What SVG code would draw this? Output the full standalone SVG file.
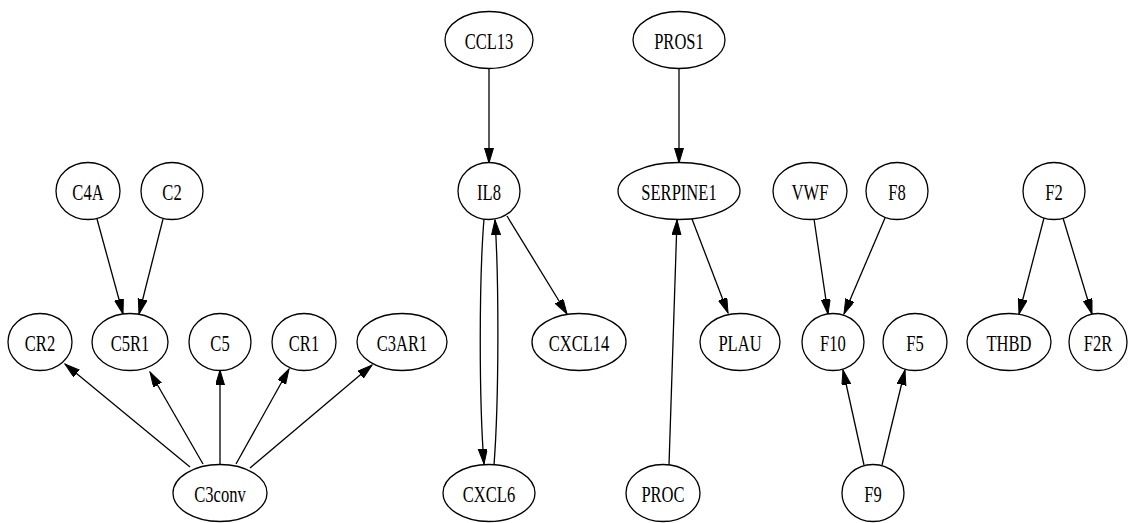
<svg xmlns="http://www.w3.org/2000/svg" width="1128" height="523" viewBox="0 0 1128 523">
<style>
.n ellipse{fill:#fff;stroke:#000;stroke-width:1.3}
.e path{fill:none;stroke:#000;stroke-width:1.3;marker-end:url(#ah)}
</style>
<defs>
<marker id="ah" markerUnits="userSpaceOnUse" markerWidth="16" markerHeight="10" refX="15" refY="4.5" orient="auto">
<path d="M0,0 L15,4.5 L0,9 z" fill="#000" stroke="#000" stroke-width="1"/>
</marker>
</defs>
<rect width="1128" height="523" fill="#fff"/>
<g id="edges" class="e">
<path d="M97,219 L123,314"/>
<path d="M163,219 L139,314"/>
<path d="M190,467 L65,364"/>
<path d="M203,464 L150,372"/>
<path d="M220,465 L220,370"/>
<path d="M236,464 L289,369"/>
<path d="M250,468 L372,365"/>
<path d="M489,68 L489,163"/>
<path d="M484,219 C479,280 479,400 484,464"/>
<path d="M494,465 C499,400 499,280 495,220"/>
<path d="M507,216 L567,314"/>
<path d="M679,68 L679,163"/>
<path d="M692,219 L728,313"/>
<path d="M669,465 L677,220"/>
<path d="M814,219 L828,314"/>
<path d="M885,218 L844,314"/>
<path d="M1044,218 L1019,314"/>
<path d="M1063,218 L1092,314"/>
<path d="M864,465 L843,370"/>
<path d="M882,465 L905,370"/>
</g>
<g font-family="Liberation Serif, Times New Roman, serif" font-size="24" text-anchor="middle" fill="#000">
<g id="CCL13" class="n"><ellipse cx="489" cy="40" rx="44" ry="28.5"/><text transform="translate(489,48.5) scale(0.69,1)">CCL13</text></g>
<g id="PROS1" class="n"><ellipse cx="679" cy="40" rx="46" ry="28.5"/><text transform="translate(679,48.5) scale(0.69,1)">PROS1</text></g>
<g id="C4A" class="n"><ellipse cx="88" cy="191" rx="32" ry="28.5"/><text transform="translate(88,199.5) scale(0.69,1)">C4A</text></g>
<g id="C2" class="n"><ellipse cx="172" cy="191" rx="31" ry="28.5"/><text transform="translate(172,199.5) scale(0.69,1)">C2</text></g>
<g id="IL8" class="n"><ellipse cx="489" cy="191" rx="31" ry="28.5"/><text transform="translate(489,199.5) scale(0.69,1)">IL8</text></g>
<g id="SERPINE1" class="n"><ellipse cx="679" cy="191" rx="61" ry="28.5"/><text transform="translate(679,199.5) scale(0.69,1)">SERPINE1</text></g>
<g id="VWF" class="n"><ellipse cx="810" cy="191" rx="37" ry="28.5"/><text transform="translate(810,199.5) scale(0.69,1)">VWF</text></g>
<g id="F8" class="n"><ellipse cx="897" cy="191" rx="31" ry="28.5"/><text transform="translate(897,199.5) scale(0.69,1)">F8</text></g>
<g id="F2" class="n"><ellipse cx="1054" cy="191" rx="31" ry="28.5"/><text transform="translate(1054,199.5) scale(0.69,1)">F2</text></g>
<g id="CR2" class="n"><ellipse cx="40" cy="342" rx="32" ry="28.5"/><text transform="translate(40,350.5) scale(0.69,1)">CR2</text></g>
<g id="C5R1" class="n"><ellipse cx="130" cy="342" rx="38" ry="28.5"/><text transform="translate(130,350.5) scale(0.69,1)">C5R1</text></g>
<g id="C5" class="n"><ellipse cx="220" cy="342" rx="31" ry="28.5"/><text transform="translate(220,350.5) scale(0.69,1)">C5</text></g>
<g id="CR1" class="n"><ellipse cx="304" cy="342" rx="32" ry="28.5"/><text transform="translate(304,350.5) scale(0.69,1)">CR1</text></g>
<g id="C3AR1" class="n"><ellipse cx="402" cy="342" rx="45" ry="28.5"/><text transform="translate(402,350.5) scale(0.69,1)">C3AR1</text></g>
<g id="CXCL14" class="n"><ellipse cx="579" cy="342" rx="47" ry="28.5"/><text transform="translate(579,350.5) scale(0.69,1)">CXCL14</text></g>
<g id="PLAU" class="n"><ellipse cx="740" cy="342" rx="40" ry="28.5"/><text transform="translate(740,350.5) scale(0.69,1)">PLAU</text></g>
<g id="F10" class="n"><ellipse cx="833" cy="342" rx="31" ry="28.5"/><text transform="translate(833,350.5) scale(0.69,1)">F10</text></g>
<g id="F5" class="n"><ellipse cx="915" cy="342" rx="32" ry="28.5"/><text transform="translate(915,350.5) scale(0.69,1)">F5</text></g>
<g id="THBD" class="n"><ellipse cx="1009" cy="342" rx="42" ry="28.5"/><text transform="translate(1009,350.5) scale(0.69,1)">THBD</text></g>
<g id="F2R" class="n"><ellipse cx="1098" cy="342" rx="29" ry="28.5"/><text transform="translate(1098,350.5) scale(0.69,1)">F2R</text></g>
<g id="C3conv" class="n"><ellipse cx="220" cy="493" rx="47" ry="28.5"/><text transform="translate(220,501.5) scale(0.69,1)">C3conv</text></g>
<g id="CXCL6" class="n"><ellipse cx="489" cy="493" rx="46" ry="28.5"/><text transform="translate(489,501.5) scale(0.69,1)">CXCL6</text></g>
<g id="PROC" class="n"><ellipse cx="663" cy="493" rx="37" ry="28.5"/><text transform="translate(663,501.5) scale(0.69,1)">PROC</text></g>
<g id="F9" class="n"><ellipse cx="873" cy="493" rx="31" ry="28.5"/><text transform="translate(873,501.5) scale(0.69,1)">F9</text></g>
</g>
</svg>
